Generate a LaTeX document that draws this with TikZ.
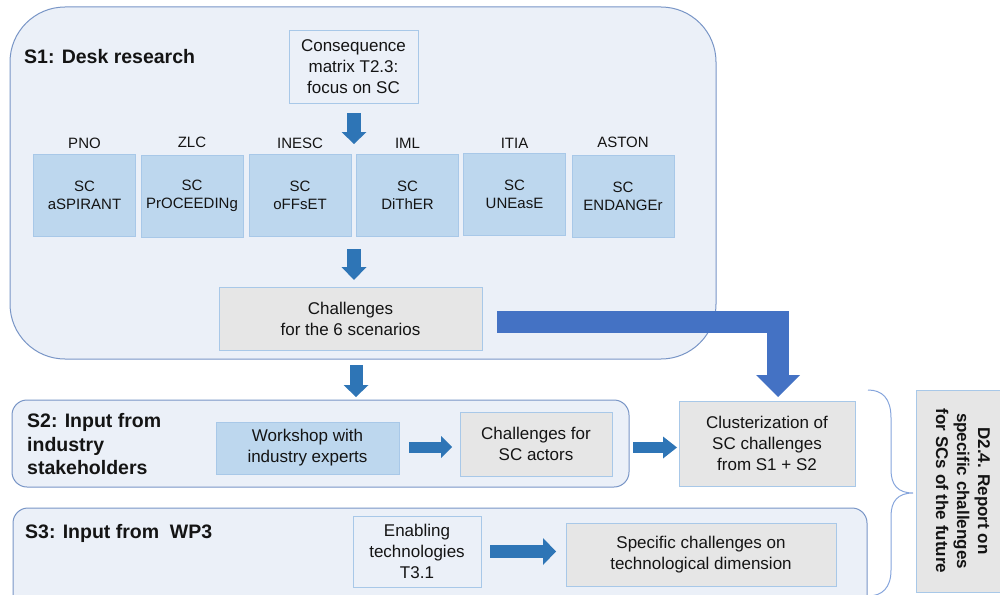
\documentclass[tikz,border=0pt]{standalone}
\usepackage{fontspec}
\setmainfont{Liberation Sans}
\usetikzlibrary{arrows.meta}
\definecolor{panel}{HTML}{EBF0F8}
\definecolor{panelline}{HTML}{7895C6}
\definecolor{scfill}{HTML}{BDD7EE}
\definecolor{scline}{HTML}{A8C8E8}
\definecolor{greyfill}{HTML}{E6E6E6}
\definecolor{arrowc}{HTML}{2E75B6}
\definecolor{bigarrow}{HTML}{4472C4}
\definecolor{txt}{HTML}{141414}
\definecolor{bracec}{HTML}{86A5DC}
\begin{document}
\begin{tikzpicture}[x=1pt,y=-1pt,
  panelbox/.style={draw=panelline, line width=1pt, fill=panel, inner sep=0pt},
  plainbox/.style={draw=scline, line width=1pt, fill=panel, inner sep=0pt, align=center, text=txt, font=\fontsize{17}{21}\selectfont},
  scbox/.style={draw=scline, line width=1pt, fill=scfill, inner sep=0pt, align=center, text=txt, minimum width=102pt, minimum height=82pt, font=\fontsize{15}{18}\selectfont},
  bluebox/.style={draw=scline, line width=1pt, fill=scfill, inner sep=0pt, align=center, text=txt, font=\fontsize{17}{21}\selectfont},
  greybox/.style={draw=scline, line width=1pt, fill=greyfill, inner sep=0pt, align=center, text=txt, font=\fontsize{17}{21}\selectfont},
  toplabel/.style={inner sep=0pt, text=txt, font=\fontsize{15}{18}\selectfont},
  seclabel/.style={inner sep=0pt, anchor=west, align=left, text=txt, font=\fontsize{19.5}{23.5}\selectfont\bfseries},
  blk/.style={draw=arrowc, line cap=butt},
]
\useasboundingbox (0,0) rectangle (1000,594);
\clip (0,0) rectangle (1000,594);

% panels
\node[panelbox, rounded corners=55pt, minimum width=706pt, minimum height=352pt] (s1) at (363,183) {};
\node[panelbox, rounded corners=15pt, minimum width=617pt, minimum height=87pt] (s2) at (320.5,443.5) {};
\node[panelbox, rounded corners=15pt, minimum width=854pt, minimum height=110pt] (s3) at (440,563) {};

\node[seclabel] (s1lbl) at (24,57) {S1: Desk research};
\node[seclabel] (s2lbl) at (27,444.5) {S2: Input from\\industry\\stakeholders};
\node[seclabel] (s3lbl) at (25,533) {S3: Input from\ \ WP3};

% S1 content
\node[plainbox, minimum width=129pt, minimum height=72pt] (cons) at (353.5,67) {Consequence\\matrix T2.3:\\focus on SC};

\node[scbox] (sc1) at (84.5,195) {SC\\aSPIRANT};
\node[scbox] (sc2) at (192,196) {SC\\PrOCEEDINg};
\node[scbox] (sc3) at (300,195) {SC\\oFFsET};
\node[scbox] (sc4) at (407.5,195) {SC\\DiThER};
\node[scbox] (sc5) at (514.5,194) {SC\\UNEasE};
\node[scbox] (sc6) at (623,196) {SC\\ENDANGEr};

\node[toplabel] (l1) at (84.5,143) {PNO};
\node[toplabel] (l2) at (192,142) {ZLC};
\node[toplabel] (l3) at (300,143) {INESC};
\node[toplabel] (l4) at (407.5,143) {IML};
\node[toplabel] (l5) at (514.5,143) {ITIA};
\node[toplabel] (l6) at (623,142) {ASTON};

\node[greybox, minimum width=263pt, minimum height=63pt] (chall) at (350.5,318.5) {Challenges\\for the 6 scenarios};

% S2 content
\node[bluebox, minimum width=183pt, minimum height=52pt] (work) at (307.5,448) {Workshop with\\industry experts};
\node[greybox, minimum width=152pt, minimum height=64pt] (chsc) at (536,444) {Challenges for\\SC actors};
\node[greybox, minimum width=176pt, minimum height=85pt] (clus) at (767,443.5) {Clusterization of\\SC challenges\\from S1 + S2};

% S3 content
\node[plainbox, minimum width=128pt, minimum height=71pt] (enab) at (417,551.5) {Enabling\\technologies\\T3.1};
\node[greybox, minimum width=270pt, minimum height=63pt] (spec) at (701,554.5) {Specific challenges on\\technological dimension};

% D2.4
\node[greybox, rotate=-90, minimum width=202pt, minimum height=94pt, font=\fontsize{17}{21}\selectfont\bfseries] (d24) at (963,491) {D2.4. Report on\\specific challenges\\for SCs of the future};

% arrow coordinates
\coordinate (a1s) at (354,113);
\coordinate (a1e) at (354,144);
\coordinate (a2s) at (354,249);
\coordinate (a2e) at (354,280);
\coordinate (a3s) at (356,365);
\coordinate (a3e) at (356,397);
\coordinate (a4s) at (409,447);
\coordinate (a4e) at (452,447);
\coordinate (a5s) at (633,447.5);
\coordinate (a5e) at (677,447.5);
\coordinate (a6s) at (490,551.5);
\coordinate (a6e) at (556,551.5);
\coordinate (bs) at (497,321.5);
\coordinate (bm) at (778,321.5);
\coordinate (be) at (778,397);

\draw[blk, line width=14pt, -{Triangle[length=12pt,width=25pt,line width=0pt]}] (a1s) -- (a1e);
\draw[blk, line width=14pt, -{Triangle[length=13pt,width=25pt,line width=0pt]}] (a2s) -- (a2e);
\draw[blk, line width=13pt, -{Triangle[length=12pt,width=25pt,line width=0pt]}] (a3s) -- (a3e);
\draw[blk, line width=11pt, -{Triangle[length=11pt,width=22pt,line width=0pt]}] (a4s) -- (a4e);
\draw[blk, line width=11pt, -{Triangle[length=14pt,width=22pt,line width=0pt]}] (a5s) -- (a5e);
\draw[blk, line width=13pt, -{Triangle[length=13pt,width=27pt,line width=0pt]}] (a6s) -- (a6e);
\draw[draw=bigarrow, line width=22pt, line join=miter, line cap=butt, -{Triangle[length=22pt,width=44pt,line width=0pt]}] (bs) -- (bm) -- (be);

% brace
\draw[bracec, line width=1pt] (868,390) .. controls (882,390) and (891,398) .. (891,418) -- (891,470) .. controls (891,485) and (898,493) .. (913,493) .. controls (898,493) and (891,501) .. (891,516) -- (891,570) .. controls (891,588) and (882,596) .. (868,596);
\end{tikzpicture}
\end{document}
